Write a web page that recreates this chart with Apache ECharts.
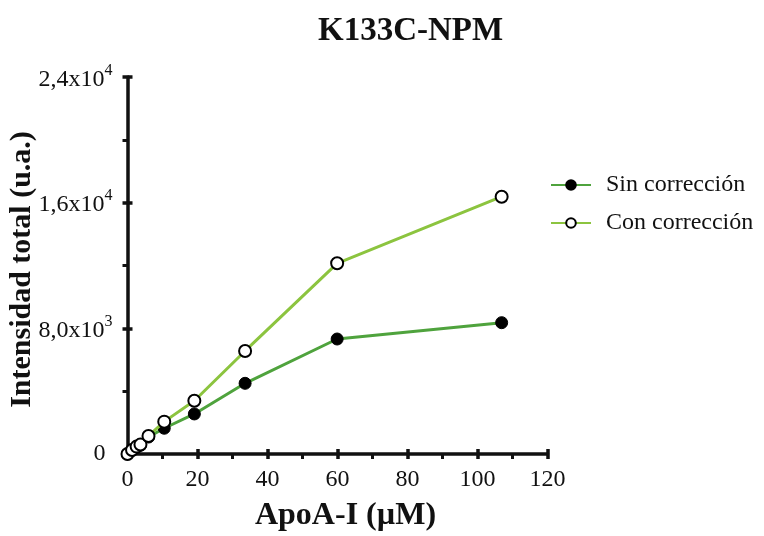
<!DOCTYPE html>
<html>
<head>
<meta charset="utf-8">
<script src="https://cdn.jsdelivr.net/npm/echarts@6/dist/echarts.min.js"></script>
<style>
  html, body { margin: 0; padding: 0; background: #fff; }
  #chart { width: 764px; height: 536px; }
</style>
</head>
<body>
<div id="chart"></div>
<script>
// ApoA-I concentration (µM)
const apoA = [0, 1.3, 2.6, 3.7, 6.0, 10.5, 19.1, 33.6, 59.9, 106.9];
// Total intensity (a.u.) without and with correction
const sinCorreccion = [0, 230, 430, 560, 1080, 1640, 2550, 4500, 7320, 8360];
const conCorreccion = [0, 250, 470, 600, 1150, 2060, 3390, 6560, 12140, 16380];

const seriesNames = ['Sin corrección', 'Con corrección'];
const xTicks = [0, 20, 40, 60, 80, 100, 120];
// y tick labels: mantissa and exponent
const yTickValues = [0, 8000, 16000, 24000];
const yTickMantissa = ['0', '8,0x10', '1,6x10', '2,4x10'];
const yTickExponent = ['', '3', '4', '4'];

const serif = "'Liberation Serif', 'Times New Roman', serif";
const ink = '#111';

const pairs = (ys) => apoA.map((x, i) => [x, ys[i]]);

const chart = echarts.init(document.getElementById('chart'), null, { renderer: 'canvas' });

const axisBase = {
  type: 'value',
  axisLine: { show: true, lineStyle: { color: ink, width: 3.5 } },
  splitLine: { show: false }
};

chart.setOption({
  animation: false,
  backgroundColor: '#fff',
  title: {
    text: 'K133C-NPM',
    left: 313, top: 10,
    textStyle: { fontFamily: serif, fontWeight: 'bold', fontSize: 33, color: ink }
  },
  legend: {
    orient: 'vertical',
    left: 545, top: 168,
    itemWidth: 40, itemHeight: 12,
    itemGap: 14,
    data: seriesNames,
    textStyle: { fontFamily: serif, fontSize: 24, color: ink, padding: [0, 0, 0, 10] }
  },
  grid: { left: 127.5, right: 216.5, top: 77, bottom: 82, containLabel: false, outerBoundsMode: 'none' },
  xAxis: [
    Object.assign({}, axisBase, {
      min: 0, max: 120, interval: 20,
      position: 'bottom',
      axisTick: { show: true, inside: false, length: 5, lineStyle: { color: ink, width: 3.5 } },
      minorTick: { show: true, splitNumber: 2, length: 5, lineStyle: { color: ink, width: 3 } },
      axisLabel: {
        margin: 14, fontFamily: serif, fontSize: 24, color: ink,
        formatter: (v) => xTicks.includes(v) ? String(v) : ''
      },
      name: 'ApoA-I (µM)',
      nameLocation: 'middle', nameGap: 46, nameMoveOverlap: false,
      nameTextStyle: { fontFamily: serif, fontWeight: 'bold', fontSize: 32, color: ink, padding: [0, 0, 0, 16] }
    }),
    Object.assign({}, axisBase, {
      min: 0, max: 120, interval: 20,
      position: 'bottom',
      axisLine: { show: false },
      axisTick: { show: true, inside: true, length: 5, lineStyle: { color: ink, width: 3.5 } },
      axisLabel: { show: false }
    })
  ],
  yAxis: [
    Object.assign({}, axisBase, {
      min: 0, max: 24000, interval: 8000,
      axisTick: { show: true, inside: false, length: 5, lineStyle: { color: ink, width: 3.5 } },
      minorTick: { show: true, splitNumber: 2, length: 5, lineStyle: { color: ink, width: 3 } },
      axisLabel: {
        margin: 15, color: ink,
        formatter: (v) => {
          const i = yTickValues.indexOf(v);
          if (i < 0) return '';
          if (i === 0) return '{z|' + yTickMantissa[i] + '}';
          return '{m|' + yTickMantissa[i] + '}{e|' + yTickExponent[i] + '}';
        },
        rich: {
          z: { fontFamily: serif, fontSize: 24, color: ink, padding: [0, 7, 0, 0] },
          m: { fontFamily: serif, fontSize: 24, color: ink, padding: [5, 0, 0, 0] },
          e: { fontFamily: serif, fontSize: 16, color: ink, verticalAlign: 'top' }
        }
      },
      name: 'Intensidad total (u.a.)',
      nameLocation: 'middle', nameGap: 90, nameRotate: 90, nameMoveOverlap: false,
      nameTextStyle: { fontFamily: serif, fontWeight: 'bold', fontSize: 30, color: ink, padding: [0, 8, 0, 0] }
    }),
    Object.assign({}, axisBase, {
      min: 0, max: 24000, interval: 8000,
      position: 'left',
      axisLine: { show: false },
      axisTick: { show: true, inside: true, length: 5, lineStyle: { color: ink, width: 3.5 } },
      axisLabel: { show: false }
    })
  ],
  series: [
    {
      name: seriesNames[0],
      type: 'line',
      data: pairs(sinCorreccion),
      symbol: 'circle', symbolSize: 12,
      lineStyle: { color: '#4fa33d', width: 3 },
      itemStyle: { color: '#000', borderColor: '#000', borderWidth: 1 },
      z: 2
    },
    {
      name: seriesNames[1],
      type: 'line',
      data: pairs(conCorreccion),
      symbol: 'circle', symbolSize: 12,
      lineStyle: { color: '#8cc43f', width: 3 },
      itemStyle: { color: '#fff', borderColor: '#000', borderWidth: 2 },
      z: 3
    }
  ]
});
</script>
</body>
</html>
